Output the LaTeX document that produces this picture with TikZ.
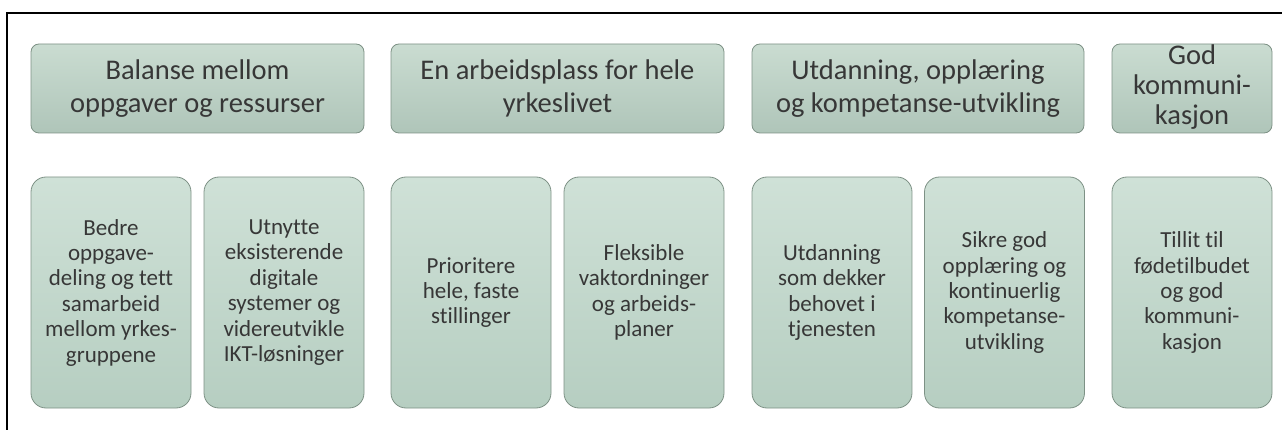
\documentclass[tikz,border=0pt]{standalone}
\usepackage{fontspec}
\setmainfont{Carlito}[Ligatures=NoCommon]
\definecolor{topc}{RGB}{202,220,209}
\definecolor{botc}{RGB}{175,197,185}
\definecolor{btopc}{RGB}{207,225,215}
\definecolor{bbotc}{RGB}{182,206,193}
\definecolor{bd}{RGB}{125,145,133}
\definecolor{txt}{RGB}{55,55,55}
\begin{document}
\begin{tikzpicture}[x=1pt,y=1pt,
  hdr/.style={draw=bd, line width=0.8pt, rounded corners=8pt, top color=topc, bottom color=botc,
    minimum width=#1, minimum height=89pt, inner sep=0pt, align=center, text=txt,
    font=\fontsize{28.5}{33}\selectfont},
  hdr/.default=333pt,
  htxt/.style={inner sep=0pt, align=center, text=txt, font=\fontsize{28.5}{30}\selectfont},
  itm/.style={draw=bd, line width=0.8pt, rounded corners=15pt, top color=btopc, bottom color=bbotc,
    minimum width=160pt, minimum height=231pt, inner sep=0pt, align=center, text=txt,
    font=\fontsize{23}{25.4}\selectfont}]
\useasboundingbox (0,0) rectangle (1282,-430);
\begin{scope}
\clip (0,0) rectangle (1282,-430);
\draw[line width=1.6pt] (7,-13) rectangle (1300,-450);
\end{scope}
\node[hdr] (h1) at (197.5,-88.5) {Balanse mellom\\oppgaver og ressurser};
\node[hdr] (h2) at (557.5,-88.5) {En arbeidsplass for hele\\yrkeslivet};
\node[hdr=332pt] (h3) at (918,-88.5) {Utdanning, opplæring\\og kompetanse-utvikling};
\node[hdr=160pt] (h4) at (1192,-88.5) {};
\node[htxt] (h4t) at (1192,-87.5) {God\\kommuni-\\kasjon};
\node[itm] (b1) at (111,-292.5) {Bedre\\oppgave-\\deling og tett\\samarbeid\\mellom yrkes-\\gruppene};
\node[itm] (b2) at (284,-292.5) {Utnytte\\eksisterende\\digitale\\systemer og\\videreutvikle\\IKT-løsninger};
\node[itm] (b3) at (471,-292.5) {Prioritere\\hele, faste\\stillinger};
\node[itm] (b4) at (644,-292.5) {Fleksible\\vaktordninger\\og arbeids-\\planer};
\node[itm] (b5) at (832,-292.5) {Utdanning\\som dekker\\behovet i\\tjenesten};
\node[itm] (b6) at (1004.5,-292.5) {Sikre god\\opplæring og\\kontinuerlig\\kompetanse-\\utvikling};
\node[itm] (b7) at (1192,-292.5) {Tillit til\\fødetilbudet\\og god\\kommuni-\\kasjon};
\end{tikzpicture}
\end{document}
